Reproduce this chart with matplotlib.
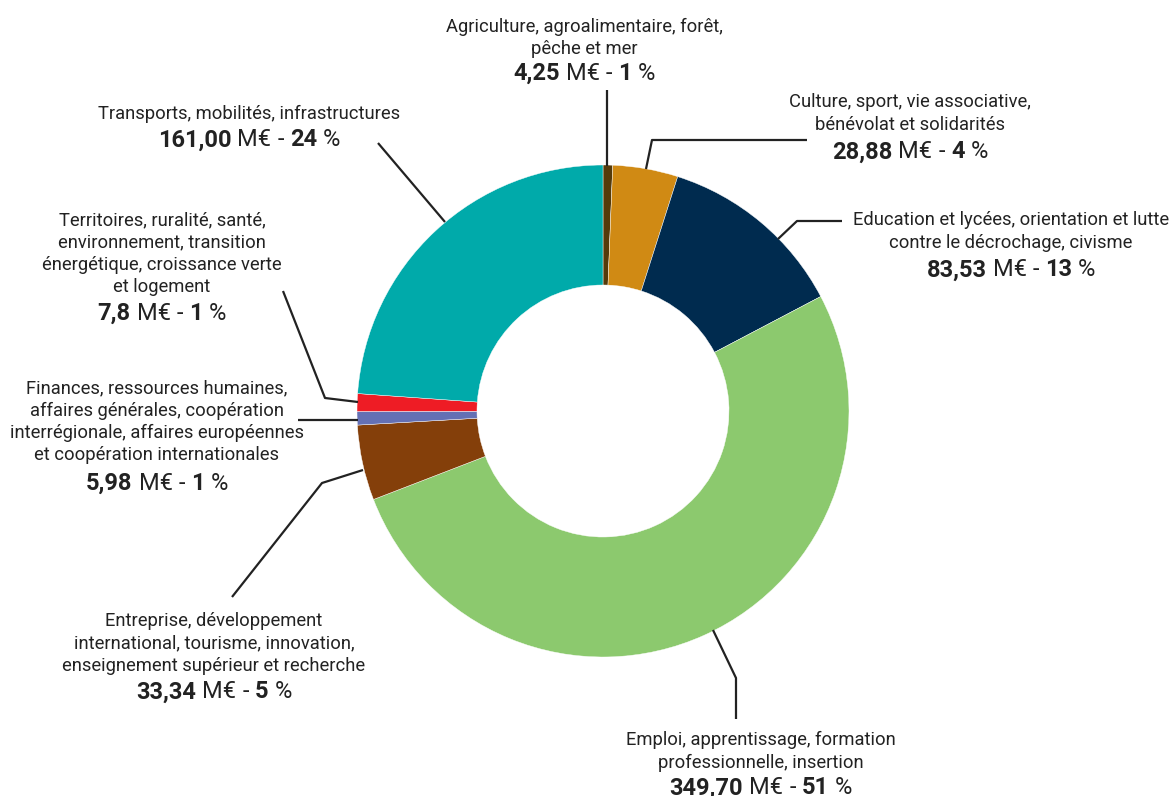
import matplotlib.pyplot as plt

# data
categories = ["Agriculture", "Culture", "Education", "Emploi",
              "Entreprise", "Finances", "Territoires", "Transports"]
values = [4.25, 28.88, 83.53, 349.70, 33.34, 5.98, 7.8, 161.00]
value_labels = ["4,25", "28,88", "83,53", "349,70", "33,34", "5,98", "7,8", "161,00"]
percents = ["1", "4", "13", "51", "5", "1", "1", "24"]
label_lines = [
    ["Agriculture, agroalimentaire, forêt,", "pêche et mer"],
    ["Culture, sport, vie associative,", "bénévolat et solidarités"],
    ["Education et lycées, orientation et lutte", "contre le décrochage, civisme"],
    ["Emploi, apprentissage, formation", "professionnelle, insertion"],
    ["Entreprise, développement", "international, tourisme, innovation,",
     "enseignement supérieur et recherche"],
    ["Finances, ressources humaines,", "affaires générales, coopération",
     "interrégionale, affaires européennes", "et coopération internationales"],
    ["Territoires, ruralité, santé,", "environnement, transition",
     "énergétique, croissance verte", "et logement"],
    ["Transports, mobilités, infrastructures"],
]
colors = ["#553a0a", "#d08a14", "#002b4f", "#8cc96e",
          "#843f0a", "#6470b4", "#ee1c25", "#00aaaa"]

W, H = 1174, 796
TXT = "#222222"
FS = 13.2
FSB = 17

# layout in pixel coords (y from top): text centre x, first line y, value line y
label_pos = [(584, 27, 73), (910, 102, 152), (1011, 220, 270), (761, 740, 788),
             (214, 621, 692), (157, 388, 483), (162, 220, 313), (249, 114, 140)]
leaders = [
    [(607, 90), (607, 166)],
    [(646, 169), (652, 140), (807, 140)],
    [(778, 239), (797, 221), (842, 221)],
    [(713, 630), (736, 678), (736, 719)],
    [(363, 470), (322, 483), (232, 597)],
    [(298, 420), (358, 420)],
    [(283, 291), (325, 398), (358, 402)],
    [(378, 143), (445, 222)],
]

plt.rcParams['font.family'] = ['Roboto', 'DejaVu Sans']

fig = plt.figure(figsize=(W / 100, H / 100), dpi=100)
ax = fig.add_axes([0, 0, 1, 1])

ax.pie(values, colors=colors, startangle=90, counterclock=False,
       radius=246, center=(603, H - 411),
       wedgeprops=dict(width=120, edgecolor='white', linewidth=0.3))
ax.set_xlim(0, W)
ax.set_ylim(0, H)
ax.set_aspect('equal')
ax.axis('off')

for pts in leaders:
    ax.plot([p[0] for p in pts], [H - p[1] for p in pts], color=TXT, lw=1.6,
            solid_capstyle='butt')

fig.canvas.draw()
renderer = fig.canvas.get_renderer()


def mixed_line(cx, y, parts):
    texts = []
    for s, w in parts:
        t = ax.text(0, H - y, s, fontsize=FSB, fontweight=w, color=TXT,
                    ha='left', va='center')
        texts.append(t)
    widths = [t.get_window_extent(renderer).width for t in texts]
    gap = 6
    total = sum(widths) + gap * (len(texts) - 1)
    x = cx - total / 2
    for t, wd in zip(texts, widths):
        t.set_x(x)
        x += wd + gap


for i, cat in enumerate(categories):
    cx, y0, yv = label_pos[i]
    step = 22.5
    for j, line in enumerate(label_lines[i]):
        ax.text(cx, H - (y0 + j * step), line, fontsize=FS, color=TXT,
                ha='center', va='center')
    mixed_line(cx, yv, [(value_labels[i], 'bold'), ("M€", 'normal'),
                        ("-", 'normal'), (percents[i], 'bold'), ("%", 'normal')])

fig.savefig("out.png", dpi=100)
